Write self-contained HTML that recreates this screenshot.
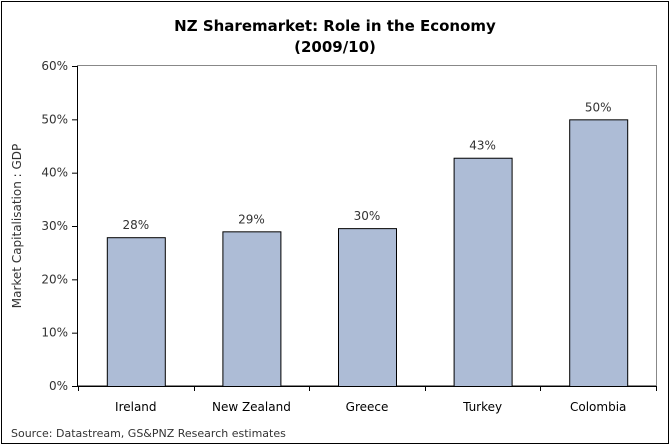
<!DOCTYPE html>
<html><head><meta charset="utf-8"><style>
html,body{margin:0;padding:0;background:#fff;width:670px;height:446px;overflow:hidden}
text{font-family:"DejaVu Sans","Liberation Sans",sans-serif}
</style></head><body>
<svg width="670" height="446">
<rect x="1.5" y="1.5" width="667" height="442" fill="#fff" stroke="#000" stroke-width="1"/>
<text x="335" y="31" text-anchor="middle" font-size="15" font-weight="bold">NZ Sharemarket: Role in the Economy</text>
<text x="335" y="52" text-anchor="middle" font-size="15" font-weight="bold">(2009/10)</text>
<rect x="77.5" y="65.5" width="579" height="320" fill="none" stroke="#888"/>
<g id="g"></g>
<text transform="translate(21,226) rotate(-90)" text-anchor="middle" font-size="12" fill="#333">Market Capitalisation : GDP</text>
<text x="11" y="437" font-size="11" fill="#333">Source: Datastream, GS&amp;PNZ Research estimates</text>
</svg>
<script>
const categories=["Ireland","New Zealand","Greece","Turkey","Colombia"];
const values=[27.9,29.0,29.6,42.8,50.0];
const valueLabels=["28%","29%","30%","43%","50%"];
const yTicks=[0,10,20,30,40,50,60];
const NS="http://www.w3.org/2000/svg",g=document.getElementById('g');
const L=78,R=656,T=66,B=386,yMax=60;
const y=v=>B-(v/yMax)*(B-T);
const bw=(R-L)/categories.length;
function mk(t,a,txt){const e=document.createElementNS(NS,t);for(const k in a)e.setAttribute(k,a[k]);if(txt!=null)e.textContent=txt;g.appendChild(e);return e;}
yTicks.forEach(v=>{
 const l=mk('line',{x1:72,x2:L,y1:y(v)+.5,y2:y(v)+.5,stroke:'#000'});
 
 
 const t=mk('text',{x:68,y:y(v)+4,'text-anchor':'end','font-size':12,fill:'#333'},v+'%');
 
 
});
for(let i=0;i<=categories.length;i++){
 const x=Math.round(L+i*bw)+.5;
 const l=mk('line',{x1:x,x2:x,y1:B,y2:B+5,stroke:'#000'});
 
 
}
categories.forEach((c,i)=>{
 const cx=L+bw*(i+.5),w=58;
 const r=mk('rect',{x:cx-w/2+.5,y:y(values[i])+.5,width:w,height:B-y(values[i]),fill:'#adbcd6',stroke:'#000'});
 
 
 const vl=mk('text',{x:cx,y:y(values[i])-8,'text-anchor':'middle','font-size':12,fill:'#333'},valueLabels[i]);
 
 
 const cl=mk('text',{x:cx,y:411,'text-anchor':'middle','font-size':12,fill:'#000'},c);
 
 
});
const ax=mk('line',{x1:L-.5,x2:L-.5,y1:T,y2:B,stroke:'#000'});


const bx=mk('line',{x1:L,x2:R,y1:B+.5,y2:B+.5,stroke:'#000'});


</script>
</body></html>
